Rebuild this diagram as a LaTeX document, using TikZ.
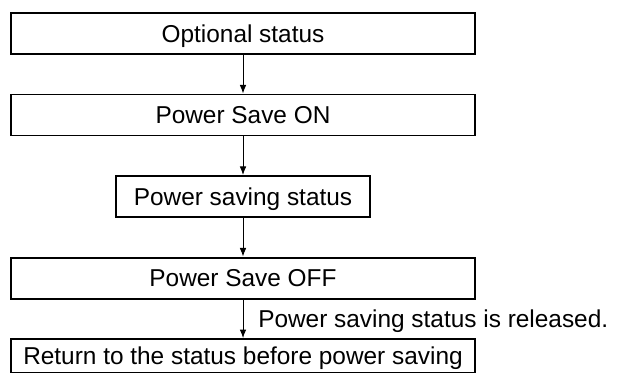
\documentclass[tikz,border=0pt]{standalone}
\usepackage{fontspec}
\setmainfont{Liberation Sans}
\usetikzlibrary{arrows.meta, positioning, calc}

\begin{document}
\begin{tikzpicture}[
      node distance=29pt,
      stepbox/.style={draw, line width=1.4pt, minimum width=348pt, minimum height=30.75pt, inner sep=0pt, text height=13.1pt, text depth=0pt, font=\fontsize{18.3}{22}\selectfont},
      arrow/.style={-{Latex[length=6.5pt, width=5pt]}, line width=0.75pt}
    ]
        \useasboundingbox (0,0) rectangle (465.75pt,-282pt);
        \node[stepbox] (optional) at (182.25pt,-25.1pt) {Optional status};
        \node[stepbox] (saveon) [below=of optional] {Power Save ON};
        \node[stepbox, minimum width=190.5pt] (saving) [below=of saveon] {Power saving status};
        \node[stepbox] (saveoff) [below=of saving] {Power Save OFF};
        \node[stepbox, minimum height=25pt] (return) [below=of saveoff] {Return to the status before power saving};

        \draw[arrow] (optional) -- (saveon);
        \draw[arrow] (saveon) -- (saving);
        \draw[arrow] (saving) -- (saveoff);
        \draw[arrow] (saveoff) -- (return);
        \node[anchor=west, font=\fontsize{18.3}{22}\selectfont, inner sep=0pt, text height=13.1pt, text depth=0pt] (released) at ([xshift=11.25pt]$(saveoff.south)!0.5!(return.north)$) {Power saving status is released.};
    \end{tikzpicture}
\end{document}
